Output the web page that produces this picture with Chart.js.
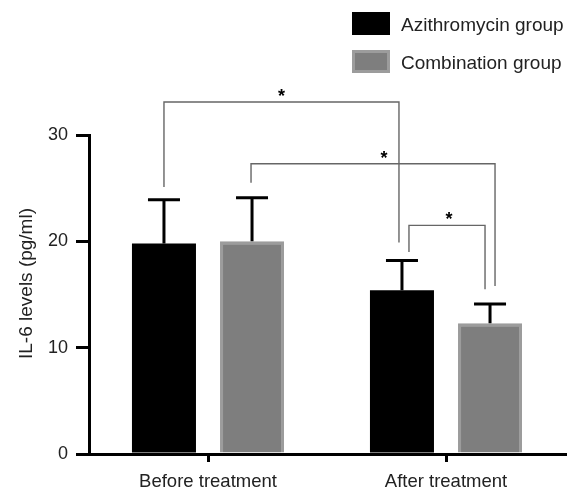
<!DOCTYPE html>
<html>
<head>
<meta charset="utf-8">
<script src="https://cdn.jsdelivr.net/npm/chart.js@4.4.0/dist/chart.umd.min.js"></script>
<style>
html,body{margin:0;padding:0;background:#fff;}
#wrap{width:571px;height:494px;position:relative;}
</style>
</head>
<body>
<div id="wrap"><canvas id="c"></canvas></div>
<script>
const categories = ['Before treatment', 'After treatment'];
const seriesNames = ['Azithromycin group', 'Combination group'];
const azithroMean = [19.8, 15.4];
const azithroSD = [4.1, 2.8];
const comboMean = [20.0, 12.3];
const comboSD = [4.1, 1.8];
const yTicks = [0, 10, 20, 30];
const yTitle = 'IL-6 levels (pg/ml)';
// brackets: [datasetA, indexA, datasetB, indexB, level, leftEnd, rightEnd]
const bracketDefs = [
  [0, 0, 0, 1, 33.1, 25.1, 19.9],
  [1, 0, 1, 1, 27.3, 25.5, 15.8],
  [0, 1, 1, 1, 21.5, 19.0, 15.5]
];
const bracketLabels = ['*', '*', '*'];

const FONT = '"Liberation Sans", Arial, Helvetica, sans-serif';
const bracketStyle = {dx: [[0, -3], [-1, 5], [7, -5]], starDx: [0, 11, 2]};

const overlay = {
  id: 'overlay',
  afterDatasetsDraw(chart) {
    const ctx = chart.ctx;
    const ys = chart.scales.y;
    const sds = [azithroSD, comboSD];
    const means = [azithroMean, comboMean];
    ctx.save();
    ctx.strokeStyle = '#000';
    ctx.lineWidth = 3;
    ctx.lineCap = 'butt';
    for (let d = 0; d < 2; d++) {
      const meta = chart.getDatasetMeta(d);
      meta.data.forEach((el, i) => {
        const x = el.x;
        const yTop = ys.getPixelForValue(means[d][i] + sds[d][i]);
        const yBar = ys.getPixelForValue(means[d][i]);
        ctx.beginPath();
        ctx.moveTo(x, yBar);
        ctx.lineTo(x, yTop);
        ctx.moveTo(x - 16, yTop);
        ctx.lineTo(x + 16, yTop);
        ctx.stroke();
      });
    }
    ctx.restore();
  },
  afterDraw(chart) {
    const ctx = chart.ctx;
    const ys = chart.scales.y;
    const ca = chart.chartArea;
    ctx.save();
    ctx.strokeStyle = '#666';
    ctx.lineWidth = 1.4;
    bracketDefs.forEach((b, k) => {
      const xa = chart.getDatasetMeta(b[0]).data[b[1]].x + bracketStyle.dx[k][0];
      const xb = chart.getDatasetMeta(b[2]).data[b[3]].x + bracketStyle.dx[k][1];
      const yl = ys.getPixelForValue(b[4]);
      const y1 = ys.getPixelForValue(b[5]);
      const y2 = ys.getPixelForValue(b[6]);
      ctx.beginPath();
      ctx.moveTo(xa, y1);
      ctx.lineTo(xa, yl);
      ctx.lineTo(xb, yl);
      ctx.lineTo(xb, y2);
      ctx.stroke();
      ctx.fillStyle = '#000';
      ctx.font = 'bold 18px ' + FONT;
      ctx.textAlign = 'center';
      ctx.textBaseline = 'middle';
      ctx.fillText(bracketLabels[k], (xa + xb) / 2 + bracketStyle.starDx[k], yl - 5);
    });
    ctx.save();
    ctx.translate(ca.left - 62, (ca.top + ca.bottom) / 2 - 11);
    ctx.rotate(-Math.PI / 2);
    ctx.fillStyle = '#222';
    ctx.font = '19px ' + FONT;
    ctx.textAlign = 'center';
    ctx.textBaseline = 'middle';
    ctx.fillText(yTitle, 0, 0);
    ctx.restore();
    const ds = chart.data.datasets;
    ds.forEach((d, i) => {
      const bx = 352, by = 12 + i * 38;
      ctx.fillStyle = d.borderColor && d.borderWidth ? d.borderColor : d.backgroundColor;
      ctx.fillRect(bx, by, 38, 23);
      if (d.borderWidth) {
        ctx.fillStyle = d.backgroundColor;
        ctx.fillRect(bx + 3, by + 3, 32, 17);
      }
      ctx.fillStyle = '#222';
      ctx.font = '19px ' + FONT;
      ctx.textAlign = 'left';
      ctx.textBaseline = 'middle';
      ctx.fillText(d.label, 401, by + 14);
    });
    ctx.restore();
  }
};

new Chart(document.getElementById('c'), {
  type: 'bar',
  data: {
    labels: categories,
    datasets: [
      {label: seriesNames[0], data: azithroMean, backgroundColor: '#000', borderWidth: 0,
       categoryPercentage: 0.74, barPercentage: 0.727},
      {label: seriesNames[1], data: comboMean, backgroundColor: '#7e7e7e', borderColor: '#9c9c9c', borderWidth: 3,
       categoryPercentage: 0.74, barPercentage: 0.727}
    ]
  },
  options: {
    responsive: true,
    maintainAspectRatio: false,
    animation: false,
    devicePixelRatio: 1,
    layout: {padding: {top: 135, right: 6, left: 0, bottom: 0}},
    plugins: {legend: {display: false}, tooltip: {enabled: false}},
    scales: {
      x: {
        offset: true,
        grid: {display: true, drawOnChartArea: false, drawTicks: true, tickLength: 8, color: '#000', lineWidth: 3, offset: false},
        border: {display: true, color: '#000', width: 3},
        ticks: {color: '#222', font: {family: FONT, size: 18.5}, padding: 9, maxRotation: 0},
        afterFit(s) { s.height = 40; }
      },
      y: {
        min: 0, max: 30,
        afterBuildTicks(s) { s.ticks = yTicks.map(v => ({value: v})); },
        grid: {display: true, drawOnChartArea: false, drawTicks: true, tickLength: 13, color: '#000', lineWidth: 3},
        border: {display: true, color: '#000', width: 3},
        ticks: {color: '#222', font: {family: FONT, size: 18}, padding: 8},
        afterFit(s) { s.width = 89; }
      }
    }
  },
  plugins: [overlay]
});
</script>
</body>
</html>
